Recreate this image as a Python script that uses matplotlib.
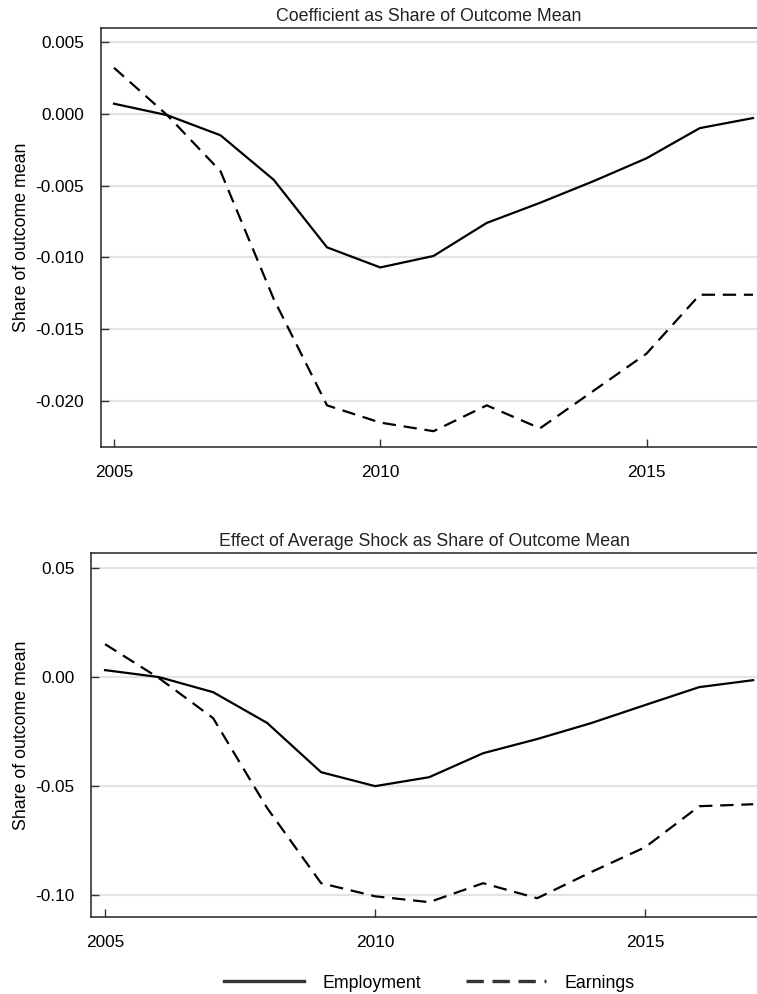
import matplotlib
matplotlib.use("Agg")
import matplotlib.pyplot as plt
from matplotlib.lines import Line2D

plt.rcParams["font.family"] = ["Liberation Sans", "DejaVu Sans"]

# data
years = list(range(2005, 2018))

coef_employment = [0.0007, -0.0001, -0.0015, -0.0046, -0.0093, -0.0107, -0.0099,
                   -0.0076, -0.0062, -0.0047, -0.0031, -0.0010, -0.0003]
coef_earnings = [0.0032, -0.0001, -0.0040, -0.0129, -0.0203, -0.0215, -0.0221,
                 -0.0203, -0.0219, -0.0193, -0.0167, -0.0126, -0.0126]

shock_employment = [0.0032, 0.0000, -0.0069, -0.0210, -0.0436, -0.0500, -0.0459,
                    -0.0349, -0.0284, -0.0211, -0.0128, -0.0046, -0.0014]
shock_earnings = [0.0151, -0.0005, -0.0188, -0.0600, -0.0945, -0.1005, -0.1032,
                  -0.0945, -0.1014, -0.0894, -0.0780, -0.0592, -0.0583]

top_yticks = [0.005, 0.0, -0.005, -0.010, -0.015, -0.020]
top_ylabels = ["0.005", "0.000", "-0.005", "-0.010", "-0.015", "-0.020"]
bot_yticks = [0.05, 0.0, -0.05, -0.10]
bot_ylabels = ["0.05", "0.00", "-0.05", "-0.10"]
xticks = [2005, 2010, 2015]

W, H = 757, 994
fig = plt.figure(figsize=(W / 100, H / 100), dpi=100)

spine_col = "#333333"
grid_col = "#e4e4e4"
fs_tick = 12.4
fs = 12.8


def box(l, t, r, b):
    return [l / W, 1 - b / H, (r - l) / W, (b - t) / H]


def style(ax, title, yticks, ylabels, xlim, ylim):
    ax.set_xlim(*xlim)
    ax.set_ylim(*ylim)
    ax.set_yticks(yticks)
    ax.set_yticklabels(ylabels)
    ax.set_xticks(xticks)
    ax.set_xticklabels([str(x) for x in xticks])
    ax.tick_params(direction="in", length=6, width=1.0, color=spine_col,
                   labelsize=fs_tick, pad=12)
    ax.tick_params(axis="x", pad=13)
    ax.yaxis.grid(True, color=grid_col, lw=1.6)
    ax.set_axisbelow(True)
    ax.spines["right"].set_visible(False)
    for s in ["left", "top", "bottom"]:
        ax.spines[s].set_color(spine_col)
        ax.spines[s].set_linewidth(1.2)
    ax.set_title(title, fontsize=fs, pad=5, color="#222222")
    ax.set_ylabel("Share of outcome mean", fontsize=fs, labelpad=4)


ax1 = fig.add_axes(box(101, 28, 757, 447))
ax1.plot(years, coef_employment, color="black", lw=1.6)
ax1.plot(years, coef_earnings, color="black", lw=1.6, dashes=(6, 3.5))
style(ax1, "Coefficient as Share of Outcome Mean", top_yticks, top_ylabels,
      (2004.756, 2017.075), (-0.0232, 0.00597))

ax2 = fig.add_axes(box(91, 553, 757, 917))
ax2.plot(years, shock_employment, color="black", lw=1.6)
ax2.plot(years, shock_earnings, color="black", lw=1.6, dashes=(6, 3.5))
style(ax2, "Effect of Average Shock as Share of Outcome Mean", bot_yticks, bot_ylabels,
      (2004.74, 2017.07), (-0.110, 0.0569))

handles = [Line2D([], [], color="#333333", lw=2.4),
           Line2D([], [], color="#333333", lw=2.4, dashes=(5.2, 2.6))]
fig.legend(handles, ["Employment", "Earnings"], loc="center",
           bbox_to_anchor=(0.567, 1 - 983 / H), ncol=2, frameon=False,
           fontsize=fs, handlelength=4.5, columnspacing=2.5, handletextpad=1.05)

fig.savefig("out.png", dpi=100)
